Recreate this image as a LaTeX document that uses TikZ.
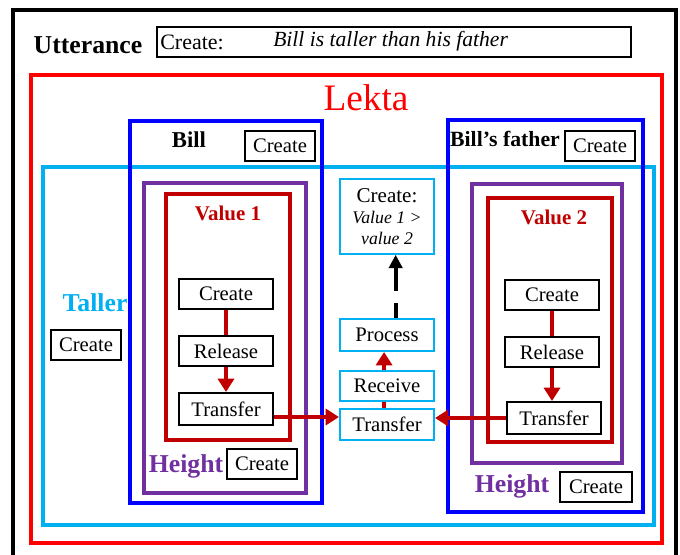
\documentclass[tikz,border=0pt]{standalone}
\usepackage{fontspec}
\setmainfont{Liberation Serif}
\usetikzlibrary{arrows.meta}

\definecolor{lektared}{RGB}{255,0,0}
\definecolor{billblue}{RGB}{0,0,255}
\definecolor{tallercyan}{RGB}{0,176,240}
\definecolor{heightpurple}{RGB}{112,48,160}
\definecolor{valuered}{RGB}{192,0,0}

\begin{document}
\begin{tikzpicture}[x=0.75pt, y=-0.75pt,
    createbox/.style={draw, rectangle, line width=1.5pt, fill=white, inner sep=0pt,
        minimum width=52.5pt, minimum height=22.5pt, font=\fontsize{15.5}{18}\selectfont},
    stepbox/.style={createbox, minimum width=70.5pt},
    midbox/.style={stepbox, draw=tallercyan},
    label/.style={inner sep=0pt, font=\bfseries\fontsize{19.3}{22}\selectfont},
    sublabel/.style={inner sep=0pt, font=\bfseries\fontsize{16.3}{19}\selectfont},
    frame/.style={line width=2.4pt},
    redarrow/.style={-{Triangle[width=12pt,length=10pt]}, line width=2.8pt, valuered},
    dasharrow/.style={-{Triangle[width=10pt,length=10pt]}, line width=3pt, dash pattern=on 11pt off 9pt on 30pt off 1pt}]

    \useasboundingbox (0,0) rectangle (680,554);
    \clip (0,0) rectangle (680,554);

    % Frames, from the outside in
    \draw[line width=3pt] (13,10) rectangle (676,580);
    \draw[frame, lektared, line width=3pt] (31,75) rectangle (662,543);
    \draw[frame, tallercyan] (43,167) rectangle (654,525);
    \draw[frame, billblue] (130,121) rectangle (322,503);
    \draw[frame, billblue] (448,120) rectangle (643,512);
    \draw[frame, heightpurple] (144,183) rectangle (306,493);
    \draw[frame, heightpurple] (472,184) rectangle (622,463);
    \draw[frame, valuered] (166,194) rectangle (290,440);
    \draw[frame, valuered] (488,198) rectangle (612,442);

    % Utterance row
    \node[label] (utterance) at (88,45) {Utterance};
    \node[draw, line width=1.5pt, inner sep=0pt, minimum width=355.5pt, minimum height=22.5pt] (uttbox) at (394,42) {};
    \node[inner sep=0pt, anchor=west, font=\fontsize{16.5}{19}\selectfont] (uttcreate) at (160,42) {Create:};
    \node[inner sep=0pt, anchor=west, font=\itshape\fontsize{16.2}{19}\selectfont] (uttsentence) at (273,41) {Bill is taller than his father};

    % Lekta title
    \node[inner sep=0pt, lektared, font=\fontsize{28}{32}\selectfont] (lekta) at (366,98) {Lekta};

    % Taller label
    \node[label, tallercyan] (taller) at (95,303) {Taller};
    \node[createbox] (tallercreate) at (86,345) {Create};

    % Left column: Bill
    \node[sublabel, font=\bfseries\fontsize{17}{19}\selectfont] (bill) at (189,140) {Bill};
    \node[createbox] (billcreate) at (280,146) {Create};
    \node[sublabel, valuered, font=\bfseries\fontsize{15.7}{18}\selectfont] (value1) at (228,213) {Value 1};
    \node[stepbox] (lcreate) at (226,294) {Create};
    \node[stepbox, minimum height=24pt] (ltransfer) at (226,409) {Transfer};
    % Arrow from create to transfer, running behind release
    \draw[redarrow] (lcreate.south) -- (ltransfer.north);
    \node[stepbox] (lrelease) at (226,351) {Release};
    \node[label, heightpurple] (lheight) at (186,466) {Height};
    \node[createbox] (lheightcreate) at (262,464) {Create};

    % Right column: Bill's father
    \node[sublabel] (father) at (505,139) {Bill’s father};
    \node[createbox] (fathercreate) at (600,146) {Create};
    \node[sublabel, valuered, font=\bfseries\fontsize{15.7}{18}\selectfont] (value2) at (554,217) {Value 2};
    \node[stepbox] (rcreate) at (552,295) {Create};
    \node[stepbox, minimum height=24pt] (rtransfer) at (554,418) {Transfer};
    % Arrow from create to transfer, running behind release
    \draw[redarrow] (rcreate.south) -- (rtransfer.north -| rcreate.south);
    \node[stepbox] (rrelease) at (552,352) {Release};
    \node[label, heightpurple] (rheight) at (512,486) {Height};
    \node[createbox, minimum width=54pt] (rheightcreate) at (596,487) {Create};

    % Middle column
    \node[midbox, minimum height=56pt, align=center, font=\fontsize{15.8}{16.5}\selectfont] (mcreate) at (387,216.5)
        {Create:\\[-1pt]{\itshape\fontsize{13.3}{16.5}\selectfont Value 1 >}\\[-1pt]{\itshape\fontsize{13.3}{16.5}\selectfont value 2}};
    \node[midbox, minimum height=24pt] (mprocess) at (387,335) {Process};
    \node[midbox, minimum height=23.5pt] (mtransfer) at (387,424.5) {Transfer};
    % Arrow from transfer to process, running behind receive
    \draw[redarrow] ([xshift=-2.2pt]mtransfer.north) -- ([xshift=-2.2pt]mprocess.south);
    \node[midbox] (mreceive) at (387,386) {Receive};
    % Dashed arrow from process to create
    \draw[dasharrow] ([xshift=6.5pt]mprocess.north) -- ([xshift=6.5pt]mcreate.south);

    % Transfers into the middle transfer
    \draw[redarrow] ([yshift=-6pt]ltransfer.east) -- ([yshift=-6pt]ltransfer.east -| mtransfer.west);
    \draw[redarrow] (rtransfer.west) -- (rtransfer.west -| mtransfer.east);

\end{tikzpicture}
\end{document}
